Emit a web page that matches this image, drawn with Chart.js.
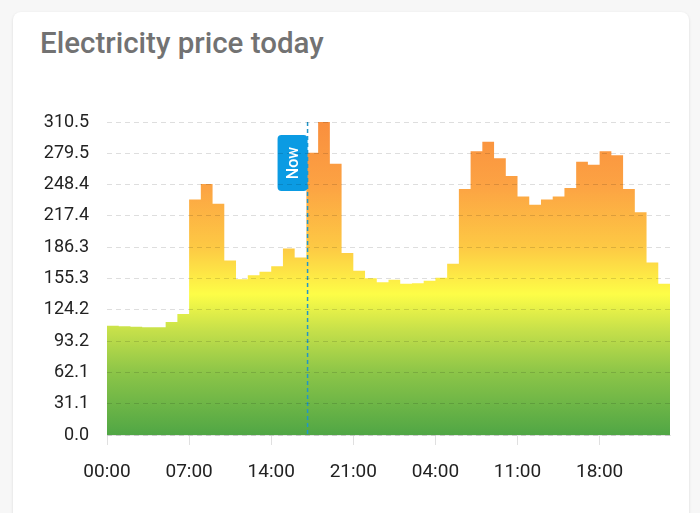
<!DOCTYPE html>
<html>
<head>
<meta charset="utf-8">
<script src="https://cdn.jsdelivr.net/npm/chart.js@4"></script>
<style>
  html, body { margin: 0; padding: 0; background: #f7f7f7; width: 700px; height: 513px; overflow: hidden; }
  #card {
    position: absolute; left: 13px; top: 12px; width: 676px; height: 530px;
    background: #fff; border-radius: 8px;
    box-shadow: 0 1px 3px rgba(0,0,0,0.12);
  }
  #title {
    position: absolute; left: 40px; top: 26px;
    font-family: Roboto, sans-serif; font-size: 29.5px; font-weight: 500; color: #727272;
  }
  #wrap { position: absolute; left: 0; top: 0; width: 700px; height: 513px; }
</style>
</head>
<body>
<div id="card"></div>
<div id="title">Electricity price today</div>
<div id="wrap"><canvas id="price-chart"></canvas></div>
<script>
// hourly prices, two days (00:00 day 1 .. 23:00 day 2)
const prices = [
  108.5, 108, 107.5, 107, 107, 112, 120, 233.5, 249, 229.5, 173, 154.5,
  158.5, 162, 167.5, 185, 176, 280, 310.5, 269, 180.5, 163, 155.5, 151.5,
  154, 150, 150.5, 153, 156, 170, 244, 281.5, 291, 274.5, 257, 236.5,
  228.5, 233.5, 236.5, 245, 271, 268, 281.5, 277.5, 244, 221, 171, 150
]
const hours = Array.from({ length: prices.length + 1 }, (_, i) => String(i % 24).padStart(2, "0") + ":00")
const xTickEvery = 7
const yMax = 310.5
const yTickLabels = ["0.0", "31.1", "62.1", "93.2", "124.2", "155.3", "186.3", "217.4", "248.4", "279.5", "310.5"]
const nowIndex = 17.1

// extra closing point so the last hour gets its own step
const stepData = prices.concat([prices[prices.length - 1]])

function priceGradient(context) {
  const { ctx, chartArea } = context.chart
  if (!chartArea) return null
  const g = ctx.createLinearGradient(0, chartArea.bottom, 0, chartArea.top)
  g.addColorStop(0, "#50a645")
  g.addColorStop(0.2, "#8cc548")
  g.addColorStop(0.33, "#c4df4a")
  g.addColorStop(0.45, "#fdfd47")
  g.addColorStop(0.6, "#fdc944")
  g.addColorStop(0.8, "#fca243")
  g.addColorStop(1, "#f98f3e")
  return g
}

// "Now" marker line + rotated label
const nowMarker = {
  id: "nowMarker",
  afterDatasetsDraw(chart) {
    const { ctx, chartArea, scales } = chart
    const x = scales.x.getPixelForValue(nowIndex)
    ctx.save()
    ctx.strokeStyle = "#2196c9"
    ctx.lineWidth = 1.5
    ctx.setLineDash([4, 3])
    ctx.beginPath()
    ctx.moveTo(x, chartArea.top)
    ctx.lineTo(x, chartArea.bottom)
    ctx.stroke()
    ctx.setLineDash([])

    const w = 30, h = 56, top = chartArea.top + 13
    ctx.fillStyle = "#0b9be3"
    ctx.beginPath()
    ctx.roundRect(x - w, top, w, h, 4)
    ctx.fill()
    ctx.translate(x - w / 2, top + h / 2)
    ctx.rotate(-Math.PI / 2)
    ctx.fillStyle = "#fff"
    ctx.font = "500 16px Roboto"
    ctx.textAlign = "center"
    ctx.textBaseline = "middle"
    ctx.fillText("Now", 0, 1)
    ctx.restore()
  }
}

const ctx = document.getElementById("price-chart").getContext("2d")

new Chart(ctx, {
  type: "line",
  data: {
    labels: hours,
    datasets: [
      {
        data: stepData,
        stepped: true,
        fill: "origin",
        backgroundColor: priceGradient,
        borderWidth: 0,
        borderColor: "rgba(0,0,0,0)",
        pointRadius: 0,
      },
    ],
  },
  options: {
    responsive: true,
    maintainAspectRatio: false,
    animation: false,
    layout: { padding: { top: 122, right: 30, left: 0, bottom: 0 } },
    plugins: {
      legend: { display: false },
      tooltip: { enabled: false },
    },
    scales: {
      x: {
        afterFit(scale) { scale.height = 78 },
        grid: {
          drawOnChartArea: false,
          drawTicks: true,
          tickLength: 10,
          color: "#e0e0e0",
        },
        border: { color: "#e6e6e6" },
        ticks: {
          autoSkip: false,
          maxRotation: 0,
          padding: 16,
          color: "#222",
          font: { family: "Roboto", size: 19 },
          callback(value, index) {
            return index % xTickEvery === 0 && index < prices.length ? hours[index] : null
          },
        },
      },
      y: {
        min: 0,
        max: yMax,
        afterFit(scale) { scale.width = 107 },
        afterBuildTicks(scale) {
          scale.ticks = yTickLabels.map((_, i) => ({ value: (yMax * i) / (yTickLabels.length - 1) }))
        },
        grid: {
          z: 1,
          drawTicks: false,
          color: "rgba(0,0,0,0.13)",
        },
        border: { display: false, dash: [5, 4] },
        ticks: {
          padding: 18,
          color: "#222",
          font: { family: "Roboto", size: 18 },
          callback(value, index) { return yTickLabels[index] },
        },
      },
    },
  },
  plugins: [nowMarker],
})
</script>
</body>
</html>
